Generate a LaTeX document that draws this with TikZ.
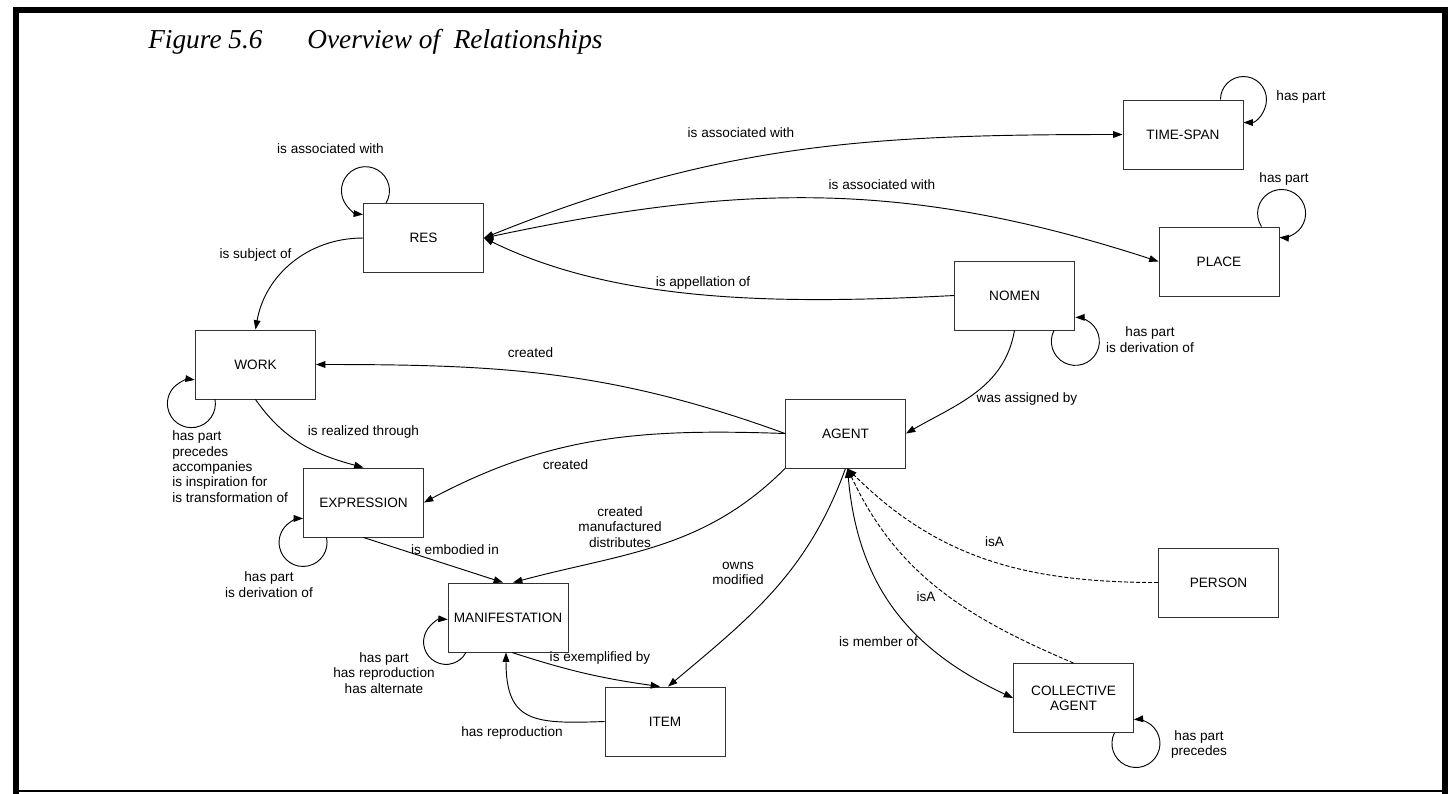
\documentclass[tikz,border=0pt]{standalone}
\usepackage{fontspec}
\setmainfont{Liberation Sans}
\newfontfamily\titlefont{Liberation Serif}
\usetikzlibrary{arrows.meta,calc}
\newcommand{\lblfont}{\fontsize{10.2pt}{11.5pt}\selectfont}
\newcommand{\figfont}{\titlefont\itshape\fontsize{20.5pt}{24pt}\selectfont}
\tikzset{
  >={Triangle[length=7pt,width=5pt]},
  entity/.style={draw=black!80,line width=0.7pt,minimum width=90pt,minimum height=51.75pt,inner sep=0pt,align=center,font=\lblfont},
  rel/.style={->,line width=0.7pt},
  isa/.style={rel,dash pattern=on 3pt off 1.5pt},
  lbl/.style={inner sep=0pt,align=center,font=\lblfont}
}

\begin{document}
\begin{tikzpicture}[x=0.75pt,y=0.75pt]
  \useasboundingbox (0,0) rectangle (1455,-793);
  % frame
  \draw[line width=4.5pt] (16,-800) |- (1445,-9.5) -- (1445,-800);
  \draw[line width=1.5pt] (16,-791) -- (1445,-791);
  \node[anchor=base west,inner sep=0pt,font=\figfont] (figno) at (148,-48) {Figure 5.6};
  \node[anchor=base west,inner sep=0pt,font=\figfont] (figtitle) at (307,-48) {Overview of~ Relationships};

  \node[entity] (res) at (423.5,-238) {RES};
  \node[entity] (work) at (255.5,-364.5) {WORK};
  \node[entity] (expression) at (363.5,-502.5) {EXPRESSION};
  \node[entity] (manifestation) at (508,-617.5) {MANIFESTATION};
  \node[entity] (item) at (665,-721.5) {ITEM};
  \node[entity] (agent) at (845.5,-433.5) {AGENT};
  \node[entity] (nomen) at (1014.5,-295.5) {NOMEN};
  \node[entity] (timespan) at (1183,-134.5) {TIME-SPAN};
  \node[entity] (place) at (1219,-261.5) {PLACE};
  \node[entity] (person) at (1218.5,-582.5) {PERSON};
  \node[entity] (collective) at (1073.5,-698) {COLLECTIVE\\AGENT};

  % self loops
  \draw[rel] ($(res.north west)+(23,0)$) arc[start angle=-31,end angle=264,radius=24];
  \draw[rel] ($(timespan.north east)+(-23,0)$) arc[start angle=180,end angle=-90,radius=23];
  \draw[rel] ($(place.north east)+(-18,0)$) arc[start angle=213,end angle=-95,radius=24];
  \draw[rel] ($(nomen.south east)+(-21,0)$) arc[start angle=153,end angle=450,radius=24];
  \draw[rel] ($(work.south west)+(20,0)$) arc[start angle=10,end angle=-278,radius=24];
  \draw[rel] ($(expression.south west)+(23.5,0)$) arc[start angle=12,end angle=-270,radius=24];
  \draw[rel] ($(manifestation.south west)+(18.4,0)$) arc[start angle=-28,end angle=-274,radius=22.5];
  \draw[rel] ($(collective.south east)+(-19.6,0)$) arc[start angle=154,end angle=455,radius=24];

  \draw[rel] (res.west) to[out=180,in=80] (work.north);
  \draw[rel,<->] (res.east) to[out=22,in=180] (timespan.west);
  \draw[rel,<->] (res.east) to[out=12,in=162] (place.west);
  \draw[rel] (nomen.west) to[out=183,in=-26,out looseness=0.95,in looseness=0.8] (res.east);
  \draw[rel] (nomen.south) to[out=-100,in=30] (agent.east);
  \draw[rel] (agent.west) to[out=160,in=0] (work.east);
  \draw[rel] (agent.west) to[out=178,in=28] (expression.east);
  \draw[rel] (agent.south west) to[out=-135,in=15] ($(manifestation.north)+(5,0)$);
  \draw[rel] (agent.south) to[out=-110,in=40] ($(item.north)+(3,0)$);
  \draw[rel] (work.south) to[out=-55,in=165] (expression.north);
  \draw[rel] (expression.south) -- ($(manifestation.north)+(-5,0)$);
  \draw[rel] ($(manifestation.south)+(4,0)$) to[out=-18,in=172] ($(item.north)+(-5,0)$);
  \draw[rel] (item.west) to[out=182,in=-90,looseness=1.5] ($(manifestation.south)+(-2,0)$);
  \draw[rel,<->] ($(agent.south)+(2,0)$) to[out=-85,in=155,looseness=1.05] (collective.west);
  \draw[isa] (person.west) to[out=180,in=-45] ($(agent.south)+(2,0)$);
  \draw[isa] (collective.north) to[out=157,in=-65] ($(agent.south)+(2,0)$);

  \node[lbl] (lresloop) at (330.5,-149) {is associated with};
  \node[lbl] (lsubject) at (255.5,-255) {is subject of};
  \node[lbl] (ltime) at (741,-133) {is associated with};
  \node[lbl] (lplace) at (882,-185) {is associated with};
  \node[lbl] (ltimeloop) at (1301,-97) {has part};
  \node[lbl] (lplaceloop) at (1284,-179) {has part};
  \node[lbl] (lnomenloop) at (1150,-339.5) {has part\\is derivation of};
  \node[lbl] (lappellation) at (703,-283) {is appellation of};
  \node[lbl] (lassigned) at (1027,-399) {was assigned by};
  \node[lbl] (lcreatedw) at (530.5,-353) {created};
  \node[lbl] (lrealized) at (363.5,-432) {is realized through};
  \node[lbl,align=left,anchor=west] (lworkloop) at (172,-466.5) {has part\\precedes\\accompanies\\is inspiration for\\is transformation of};
  \node[lbl] (lcreatede) at (565.5,-465) {created};
  \node[lbl] (lcreatedm) at (620,-527) {created\\manufactured\\distributes};
  \node[lbl] (lembodied) at (455,-550) {is embodied in};
  \node[lbl] (lexprloop) at (269,-584.5) {has part\\is derivation of};
  \node[lbl] (lmanifloop) at (384,-673) {has part\\has reproduction\\has alternate};
  \node[lbl] (lexemplified) at (600,-658) {is exemplified by};
  \node[lbl] (lreproduction) at (512,-733) {has reproduction};
  \node[lbl] (lowns) at (738,-573.5) {owns\\modified};
  \node[lbl] (lisaperson) at (994.5,-542) {isA};
  \node[lbl] (lisacoll) at (926,-597) {isA};
  \node[lbl] (lmember) at (878.5,-642) {is member of};
  \node[lbl] (lcollloop) at (1199,-744.5) {has part\\precedes};
\end{tikzpicture}
\end{document}
